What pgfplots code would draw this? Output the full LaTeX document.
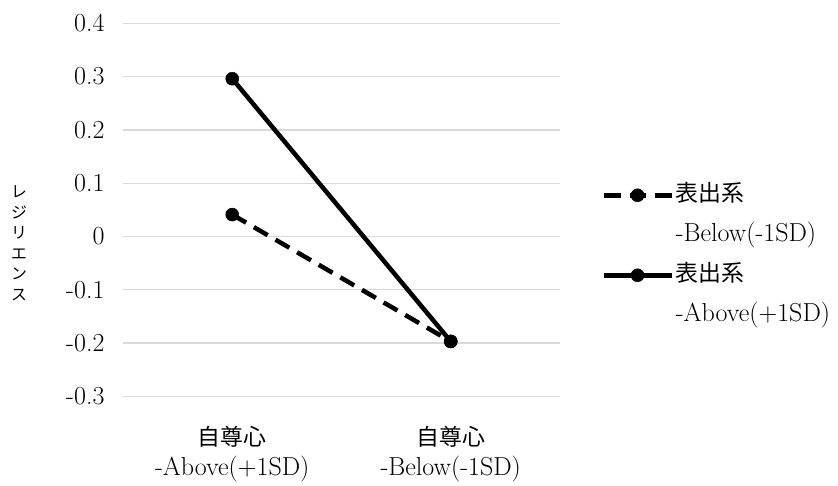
\documentclass[border=0pt]{standalone}
\usepackage{fontspec}
\usepackage{pgfplots}
\pgfplotsset{compat=1.18}
\newfontfamily\cjk[Scale=0.88]{Noto Sans CJK JP}
\begin{document}
\begin{tikzpicture}
\useasboundingbox (-123pt,-89.7pt) rectangle (715pt,396.3pt);
\begin{axis}[
  at={(0pt,0pt)}, anchor=south west,
  scale only axis, width=437pt, height=373pt,
  xmin=-0.5, xmax=1.5, ymin=-0.3, ymax=0.4,
  xtick={0,1},
  xticklabels={{{\cjk 自尊心}\\-Above(+1SD)},{{\cjk 自尊心}\\-Below(-1SD)}},
  xticklabel style={align=center, font=\fontsize{26}{30}\selectfont, yshift=-26pt},
  ytick={-0.3,-0.2,-0.1,0,0.1,0.2,0.3,0.4},
  yticklabels={-0.3,-0.2,-0.1,0,0.1,0.2,0.3,0.4},
  yticklabel style={font=\fontsize{26}{30}\selectfont, xshift=-15pt},
  axis line style={draw=none},
  major tick length=0pt,
  tick style={draw=none},
  ymajorgrids,
  grid style={draw=black!15, line width=1.3pt},
  clip=false,
  legend cell align=left,
  legend style={draw=none, fill=none, at={(1.094,0.577)}, anchor=north west,
    inner sep=0pt, row sep=12pt,
    nodes={inner sep=2pt, text height=18pt, text depth=6pt},
    font=\fontsize{26}{30}\selectfont},
  legend image code/.code={\draw[mark repeat=2,mark phase=2,#1] plot coordinates {(0pt,0pt) (34pt,0pt) (68pt,0pt)};},
]
\addplot[black, line width=4.5pt, dash pattern=on 16pt off 9pt, mark=*, mark size=6.5pt, mark options={solid, line width=0.5pt}, forget plot]
  coordinates {(0,0.041) (1,-0.197)};
\addplot[black, line width=4.5pt, mark=*, mark size=6.5pt, mark options={line width=0.5pt}, forget plot]
  coordinates {(0,0.296) (1,-0.197)};
\addlegendimage{black, line width=4.5pt, dash pattern=on 17pt off 9pt on 16pt off 9pt, mark=*, mark size=6.5pt, mark options={solid, line width=0.5pt}}
\addlegendentry{{\cjk 表出系}}
\addlegendimage{empty legend}
\addlegendentry{-Below(-1SD)}
\addlegendimage{black, line width=4.5pt, mark=*, mark size=6.5pt, mark options={line width=0.5pt}}
\addlegendentry{{\cjk 表出系}}
\addlegendimage{empty legend}
\addlegendentry{-Above(+1SD)}
\end{axis}
\node[align=center, font=\cjk\fontsize{18}{20.5}\selectfont] at (-104pt,153pt) {レ\\ジ\\リ\\エ\\ン\\ス};
\end{tikzpicture}
\end{document}
